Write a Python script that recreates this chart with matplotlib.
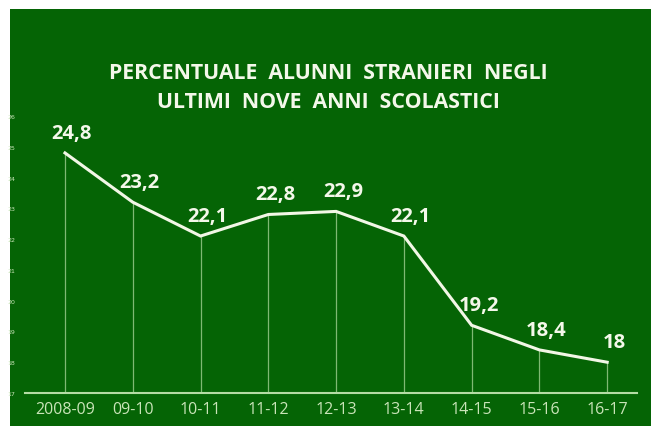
import matplotlib
matplotlib.use("Agg")
import matplotlib.pyplot as plt
from matplotlib.patches import Rectangle

categories = ["2008-09", "09-10", "10-11", "11-12", "12-13", "13-14", "14-15", "15-16", "16-17"]
values = [24.8, 23.2, 22.1, 22.8, 22.9, 22.1, 19.2, 18.4, 18.0]
value_labels = ["24,8", "23,2", "22,1", "22,8", "22,9", "22,1", "19,2", "18,4", "18"]
yticks = [17, 18, 19, 20, 21, 22, 23, 24, 25, 26]
title = "PERCENTUALE  ALUNNI  STRANIERI  NEGLI\nULTIMI  NOVE  ANNI  SCOLASTICI"

W, H = 651, 427
BG = "#056405"
LINE = "#f2f7e6"
TXT = "#f4f8ea"
TICK = "#c9e4b8"

fig = plt.figure(figsize=(W / 100, H / 100), dpi=100)
fig.patch.set_facecolor("white")
fig.patches.append(Rectangle((10 / W, 0), 1, 1 - 10 / H, transform=fig.transFigure,
                             facecolor=BG, edgecolor="none", zorder=-10))

left, right = 25 / W, 637 / W
bottom, top = 1 - 394 / H, 1 - 117 / H
ax = fig.add_axes([left, bottom, right - left, top - bottom])
ax.set_zorder(5)
ax.set_facecolor("none")

x = list(range(len(categories)))
ax.plot(x, values, color=LINE, lw=2.2, solid_joinstyle="miter", zorder=3)
ax.vlines(x, 17, values, color="#9fcf8f", lw=0.9, alpha=0.8, zorder=2)

for xi, v, s in zip(x, values, value_labels):
    ax.annotate(s, (xi, v), xytext=(7, 10), textcoords="offset pixels",
                ha="center", va="bottom", fontsize=14.5, fontweight="bold",
                color=TXT, family="Open Sans")

ax.set_xlim(-0.59, 8.44)
ax.set_ylim(17, 26)
ax.set_yticks(yticks)
ax.set_yticklabels([str(t) for t in yticks], fontsize=4.5, color=TICK)
ax.set_xticks(x)
ax.set_xticklabels(categories, fontsize=11.5, color=TICK, family="Open Sans")
ax.tick_params(axis="both", length=0)
ax.tick_params(axis="y", pad=7)
ax.tick_params(axis="x", pad=6)
for sp in ["top", "right", "left"]:
    ax.spines[sp].set_visible(False)
ax.spines["bottom"].set_color("#b5dca5")
ax.spines["bottom"].set_linewidth(1.5)

fig.text(328 / W, 1 - 88 / H, title, ha="center", va="center", fontsize=15.3,
         fontweight="bold", color=TXT, family="Open Sans", linespacing=1.45,
         zorder=6)

fig.savefig("out.png", dpi=100, facecolor=fig.get_facecolor())
